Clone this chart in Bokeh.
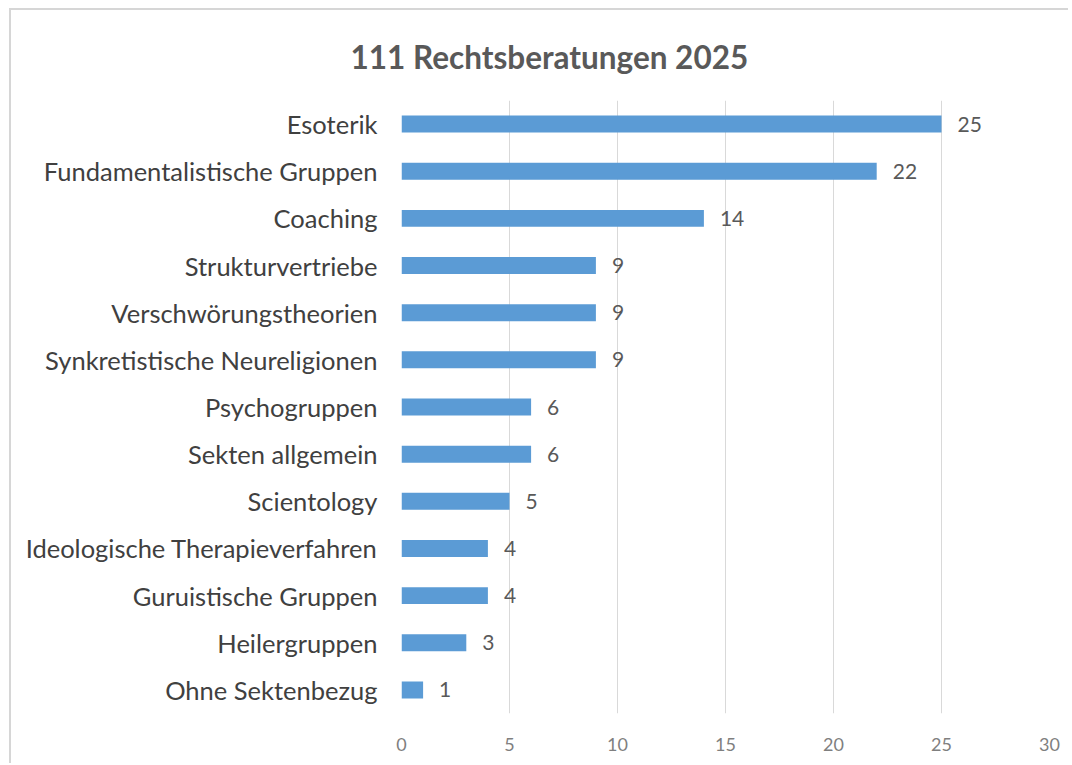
from bokeh.plotting import figure
from bokeh.models import ColumnDataSource, FactorRange, Range1d, Title, FixedTicker
from bokeh.core.properties import value
from bokeh.embed import file_html
from bokeh.resources import INLINE

title_text = "111 Rechtsberatungen 2025"
categories = [
    "Esoterik",
    "Fundamentalistische Gruppen",
    "Coaching",
    "Strukturvertriebe",
    "Verschwörungstheorien",
    "Synkretistische Neureligionen",
    "Psychogruppen",
    "Sekten allgemein",
    "Scientology",
    "Ideologische Therapieverfahren",
    "Guruistische Gruppen",
    "Heilergruppen",
    "Ohne Sektenbezug",
]
counts = [25, 22, 14, 9, 9, 9, 6, 6, 5, 4, 4, 3, 1]
x_ticks = [0, 5, 10, 15, 20, 25, 30]

FONT = "Lato"

src = ColumnDataSource(dict(cat=categories, val=counts, lab=[str(v) for v in counts]))

p = figure(
    width=1059, height=755,
    y_range=FactorRange(factors=categories[::-1], range_padding=0),
    x_range=Range1d(0, 30),
    output_backend="svg", toolbar_location=None,
    min_border_left=390, min_border_right=21, min_border_top=90, min_border_bottom=52,
)
p.margin = (8, 0, 0, 9)
p.styles = {"border-left": "2px solid #d6d6d6", "border-top": "2px solid #d6d6d6"}
p.outline_line_color = None
p.background_fill_color = "white"
p.border_fill_color = "white"

p.hbar(y="cat", right="val", left=0, height=0.36, source=src,
       fill_color="#5B9BD5", line_color=None)

p.text(x="val", y="cat", text="lab", source=src, x_offset=16,
       text_align="left", text_baseline="middle",
       text_font=value(FONT), text_font_size="21px", text_color="#595959")

# axes
p.xaxis.ticker = FixedTicker(ticks=x_ticks)
p.xaxis.axis_line_color = None
p.xaxis.major_tick_line_color = None
p.xaxis.minor_tick_line_color = None
p.xaxis.major_label_standoff = 18
p.xaxis.major_label_text_font = FONT
p.xaxis.major_label_text_font_size = "18px"
p.xaxis.major_label_text_color = "#7f7f7f"

p.yaxis.axis_line_color = None
p.yaxis.major_tick_line_color = None
p.yaxis.minor_tick_line_color = None
p.yaxis.major_label_standoff = 18
p.yaxis.major_label_text_font = FONT
p.yaxis.major_label_text_font_size = "25.5px"
p.yaxis.major_label_text_color = "#404040"

p.xgrid.grid_line_color = "#d9d9d9"
p.xgrid.ticker = FixedTicker(ticks=x_ticks)
p.ygrid.grid_line_color = None

title = Title(text=title_text, align="left", offset=-51, standoff=50,
              text_font=FONT, text_font_size="31.5px",
              text_font_style="bold", text_color="#595959")
p.add_layout(title, "above")

open("out.html", "w").write(file_html(p, INLINE))
